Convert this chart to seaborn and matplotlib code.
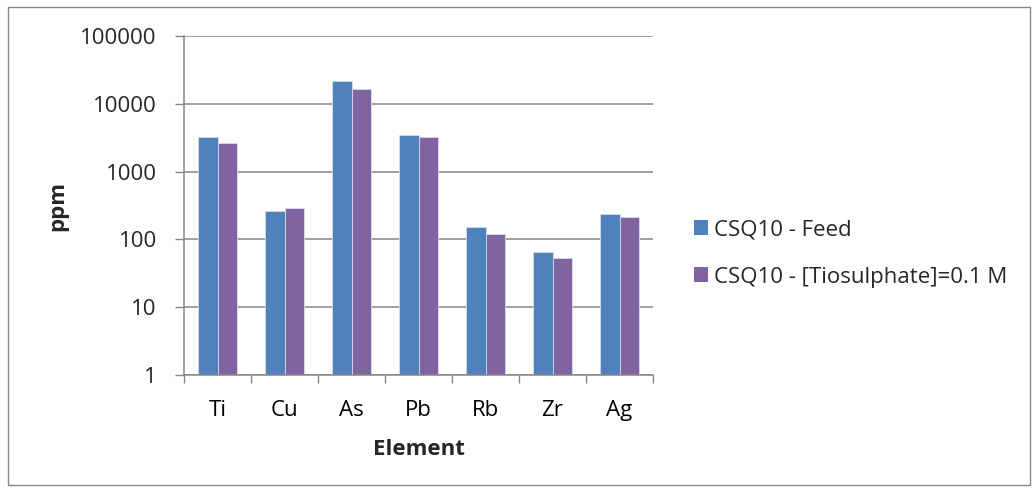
import pandas as pd
import matplotlib
matplotlib.use("Agg")
import matplotlib.pyplot as plt
import seaborn as sns
from matplotlib.ticker import FixedLocator, NullFormatter, NullLocator
from matplotlib.patches import Rectangle, Patch

# Datos
elementos = ["Ti", "Cu", "As", "Pb", "Rb", "Zr", "Ag"]
feed = [3240, 264, 21600, 3500, 154, 65, 233]
tiosulfato = [2630, 286, 16400, 3270, 122, 53, 213]
series = ["CSQ10 - Feed", "CSQ10 - [Tiosulphate]=0.1 M"]
colores = ["#4F81BD", "#8064A2"]

data = pd.DataFrame({
    "Element": elementos * 2,
    "ppm": feed + tiosulfato,
    "serie": [series[0]] * len(elementos) + [series[1]] * len(elementos),
})

sns.set_style("white")
plt.rcParams["font.family"] = ["Open Sans", "DejaVu Sans"]

fig = plt.figure(figsize=(10.34, 4.90), dpi=100)
ax = fig.add_axes([184 / 1034, 1 - 375 / 490, (653 - 184) / 1034, (375 - 36) / 490])

sns.barplot(data=data, x="Element", y="ppm", hue="serie", palette=colores,
            width=0.57, ax=ax, edgecolor="#d8dce8", linewidth=0.6,
            saturation=1, legend=False)

gris = "#868686"
ax.set_yscale("log")
ax.set_ylim(1, 100000)
ax.set_xlim(-0.5, len(elementos) - 0.5)
ax.yaxis.set_major_locator(FixedLocator([1, 10, 100, 1000, 10000, 100000]))
ax.yaxis.set_minor_locator(NullLocator())
ax.yaxis.set_minor_formatter(NullFormatter())
ax.set_yticklabels(["1", "10", "100", "1000", "10000", "100000"])
ax.grid(axis="y", color=gris, linewidth=1.1)
ax.set_axisbelow(True)

ax.xaxis.set_minor_locator(FixedLocator([i - 0.5 for i in range(len(elementos) + 1)]))
ax.xaxis.set_minor_formatter(NullFormatter())
ax.tick_params(axis="x", which="major", length=0, labelsize=16, pad=18, colors="black")
ax.tick_params(axis="x", which="minor", length=6, width=1, color=gris, bottom=True)
ax.tick_params(axis="y", which="major", length=6.5, width=1, color=gris, left=True,
               labelsize=16, pad=13)

for lado in ["top", "right"]:
    ax.spines[lado].set_visible(False)
for lado in ["left", "bottom"]:
    ax.spines[lado].set_color(gris)
    ax.spines[lado].set_linewidth(1.1)

ax.set_xlabel("Element", fontsize=16, fontweight="bold", labelpad=13)
ax.set_ylabel("ppm", fontsize=16, fontweight="bold", labelpad=9)

handles = [Patch(facecolor=c, edgecolor="none") for c in colores]
fig.legend(handles, series, loc="center left", bbox_to_anchor=(694 / 1034, 1 - 253.5 / 490),
           frameon=False, fontsize=16, handlelength=0.63, handleheight=0.63,
           handletextpad=0.27, labelspacing=1.17, borderpad=0, borderaxespad=0)

# Borde exterior del gráfico
fig.patches.append(Rectangle((8 / 1034, 5 / 490), 1022 / 1034, 478 / 490,
                             transform=fig.transFigure, fill=False,
                             edgecolor=gris, linewidth=1))

fig.savefig("out.png", dpi=100)
